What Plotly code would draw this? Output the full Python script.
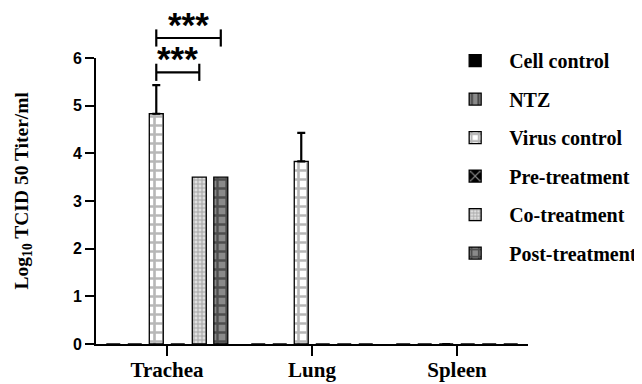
import plotly.graph_objects as go

# ---------------- data ----------------
organs = ["Trachea", "Lung", "Spleen"]
groups = ["Cell control", "NTZ", "Virus control", "Pre-treatment", "Co-treatment", "Post-treatment"]

cell_control = [0, 0, 0]
ntz = [0, 0, 0]
virus_control = [4.83, 3.83, 0]
virus_control_err = [0.6, 0.6, 0]
pre_treatment = [0, 0, 0]
co_treatment = [3.5, 0, 0]
post_treatment = [3.5, 0, 0]

y_ticks = [0, 1, 2, 3, 4, 5, 6]
y_title = "Log<sub>10</sub> TCID 50 Titer/ml"

# significance brackets: (organ, from group, to group, height, label)
sig_organ = ["Trachea", "Trachea"]
sig_from = ["Virus control", "Virus control"]
sig_to = ["Co-treatment", "Post-treatment"]
sig_height = [5.7, 6.42]
sig_label = ["***", "***"]

values = [cell_control, ntz, virus_control, pre_treatment, co_treatment, post_treatment]
errors = [None, None, virus_control_err, None, None, None]

# ---------------- styles ----------------
SERIF = "Liberation Serif"
SANS = "Liberation Sans"
BARGAP = 0.11
GROUPGAP = 0.35
YMAX = 6

styles = [
    dict(color="black", pattern=dict(shape="")),
    dict(color="#8a8a8a", pattern=dict(shape="|", fgcolor="black", bgcolor="#8a8a8a", size=8, solidity=0.3, fillmode="overlay")),
    dict(color="white", pattern=dict(shape="+", fgcolor="#707070", bgcolor="white", size=9, solidity=0.5, fillmode="overlay")),
    dict(color="black", pattern=dict(shape="x", fgcolor="white", bgcolor="black", size=9, solidity=0.3, fillmode="overlay")),
    dict(color="#b0b0b0", pattern=dict(shape="+", fgcolor="#6a6a6a", bgcolor="#e0e0e0", size=4, solidity=0.45, fillmode="overlay")),
    dict(color="#333", pattern=dict(shape="+", fgcolor="#111", bgcolor="#8a8a8a", size=9, solidity=0.45, fillmode="overlay")),
]

fig = go.Figure()
for i, (name, vals) in enumerate(zip(groups, values)):
    st = styles[i]
    err = errors[i]
    fig.add_trace(go.Bar(
        name=name, x=organs, y=vals,
        legendgroup=name,
        marker=dict(color=st["color"], pattern=st["pattern"], line=dict(color="black", width=1.3)),
        error_y=(dict(type="data", array=err, arrayminus=[0] * len(err), symmetric=False,
                      color="black", thickness=2.2, width=4) if err else None),
    ))

# significance brackets (positions derived from grouped-bar geometry)
n = len(groups)
def bar_center(organ, group):
    return organs.index(organ) + (-0.5 + (groups.index(group) + 0.5) / n) * (1 - BARGAP)

cap = 0.18
for org, g0, g1, h, lab in zip(sig_organ, sig_from, sig_to, sig_height, sig_label):
    x0, x1 = bar_center(org, g0), bar_center(org, g1)
    for (xa, ya, xb, yb) in [(x0, h, x1, h), (x0, h - cap, x0, h + cap), (x1, h - cap, x1, h + cap)]:
        fig.add_shape(type="line", xref="x", yref="paper", x0=xa, x1=xb, y0=ya / YMAX, y1=yb / YMAX,
                      line=dict(color="black", width=2.2))
    fig.add_annotation(x=(x0 + x1) / 2, y=(h - 0.17) / YMAX, xref="x", yref="paper", text=lab,
                       showarrow=False, yanchor="bottom",
                       font=dict(family=SANS, size=35, color="black", weight="bold"))

# y-axis title (placed as rotated text, slightly above the plot's vertical centre like the original)
fig.add_annotation(x=-0.169, y=0.537, xref="paper", yref="paper", text=y_title, textangle=-90,
                   showarrow=False, xanchor="center", yanchor="middle",
                   font=dict(family=SERIF, size=19.5, color="black", weight="bold"))

fig.update_layout(
    width=634, height=376,
    margin=dict(l=88, r=114, t=50, b=40, autoexpand=False),
    plot_bgcolor="white", paper_bgcolor="white",
    barmode="group", bargap=BARGAP, bargroupgap=GROUPGAP,
    showlegend=True,
    legend=dict(x=0.799, xanchor="left", yref="container", y=0.912, yanchor="top",
                maxheight=1, bgcolor="rgba(0,0,0,0)",
                font=dict(family=SERIF, size=20, color="black", weight="bold"),
                itemwidth=58, tracegroupgap=9.5),
    xaxis=dict(range=[-0.49, 2.49], showline=True, linecolor="black", linewidth=2,
               ticks="outside", ticklen=10, tickwidth=2, tickcolor="black",
               ticklabelstandoff=-4,
               tickfont=dict(family=SERIF, size=21, color="black", weight="bold"),
               showgrid=False, zeroline=False),
    yaxis=dict(range=[0, YMAX], tickvals=y_ticks, showline=True, linecolor="black", linewidth=2,
               ticks="outside", ticklen=9, tickwidth=2, tickcolor="black",
               tickfont=dict(family=SANS, size=16, color="black", weight="bold"),
               showgrid=False, zeroline=False),
)

fig.write_html("out.html")
